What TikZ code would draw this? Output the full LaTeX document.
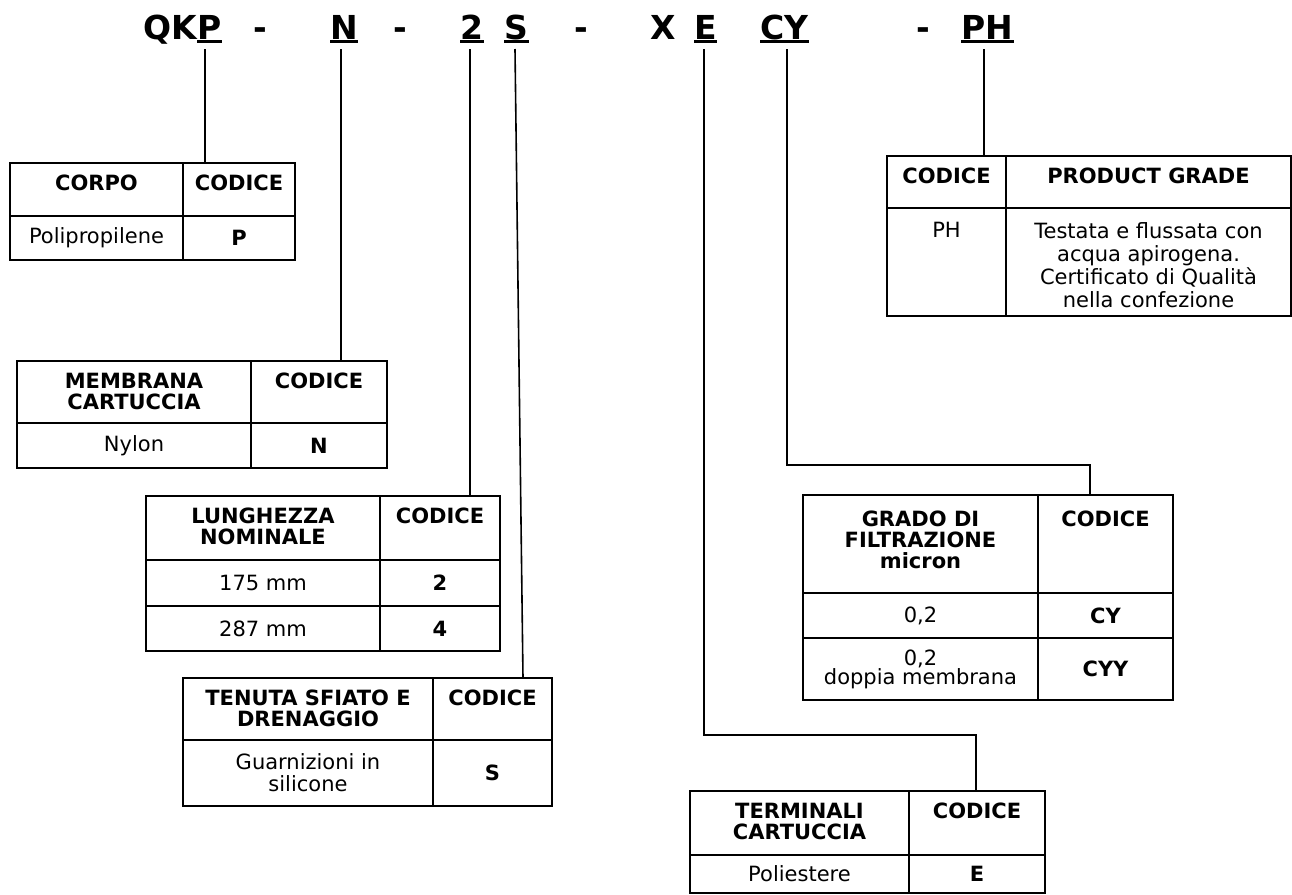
\documentclass[tikz,border=0pt]{standalone}
\usepackage{fontspec}
\setmainfont{DejaVu Sans}
\usetikzlibrary{calc}

\tikzset{
  griglia/.style={line width=1.35pt, line join=miter},
  link/.style={line width=0.8pt},
  sotto/.style={line width=1.75pt},
  sigla/.style={font=\fontsize{16.5}{18}\selectfont\bfseries, inner sep=0pt, anchor=base west},
  testa/.style={font=\fontsize{10.5}{10.4}\selectfont\bfseries, anchor=north, inner sep=0pt, align=center},
  voce/.style={font=\fontsize{10.5}{11}\selectfont, inner sep=0pt, align=center},
  codice/.style={font=\fontsize{10.5}{11}\selectfont\bfseries, inner sep=0pt},
}

\begin{document}
\begin{tikzpicture}[x=0.5pt, y=-0.5pt]
    \useasboundingbox (0,0) rectangle (1292,895);

    % ===== SIGLA =====
    \node[sigla] (tQK) at (143,39) {QK};
    \node[sigla] (tP) at (tQK.base east) {P};
    \node[sigla] (d1) at (253,39) {-};
    \node[sigla] (tN) at (330,39) {N};
    \node[sigla] (d2) at (393,39) {-};
    \node[sigla] (t2) at (460,39) {2};
    \node[sigla] (tS) at (504,39) {S};
    \node[sigla] (d3) at (574,39) {-};
    \node[sigla] (tX) at (650,39) {X};
    \node[sigla] (tE) at (694,39) {E};
    \node[sigla] (tCY) at (760,39) {CY};
    \node[sigla] (d4) at (916,39) {-};
    \node[sigla] (tPH) at (961,39) {PH};
    \foreach \n in {tP,tN,t2,tS,tE,tCY,tPH}
        \draw[sotto] ($(\n.base west)+(0,2.5)$) -- ($(\n.base east)+(0,2.5)$);

    \coordinate (cP) at (205,49);
    \coordinate (cN) at (341,49);
    \coordinate (c2) at (470,49);
    \coordinate (cS) at (515,49);
    \coordinate (cE) at (704,49);
    \coordinate (cCY) at (787,49);
    \coordinate (cPH) at (984,49);

    % ===== CORPO =====
    \draw[griglia] (10,163) rectangle (295,260);
    \draw[griglia] (10,216) -- (295,216) (183,163) -- (183,260);
    \node[testa] (corpoT) at (96.5,175) {CORPO};
    \node[testa] (corpoC) at (239,175) {CODICE};
    \node[voce] (corpoV) at (96.5,238) {Polipropilene};
    \node[codice] (corpoK) at (239,238) {P};
    \coordinate (corpoIn) at (205,163);

    % ===== MEMBRANA =====
    \draw[griglia] (17,361) rectangle (387,468);
    \draw[griglia] (17,423) -- (387,423) (251,361) -- (251,468);
    \node[testa] (membT) at (134,373) {MEMBRANA\\CARTUCCIA};
    \node[testa] (membC) at (319,373) {CODICE};
    \node[voce] (membV) at (134,445.5) {Nylon};
    \node[codice] (membK) at (319,445.5) {N};
    \coordinate (membIn) at (341,361);

    % ===== LUNGHEZZA =====
    \draw[griglia] (146,496) rectangle (500,651);
    \draw[griglia] (146,560) -- (500,560) (146,606) -- (500,606) (380,496) -- (380,651);
    \node[testa] (lungT) at (263,508) {LUNGHEZZA\\NOMINALE};
    \node[testa] (lungC) at (440,508) {CODICE};
    \node[voce] (lungA) at (263,583) {175 mm};
    \node[codice] (lungKA) at (440,583) {2};
    \node[voce] (lungB) at (263,628.5) {287 mm};
    \node[codice] (lungKB) at (440,628.5) {4};
    \coordinate (lungIn) at (470,496);

    % ===== TENUTA =====
    \draw[griglia] (183,678) rectangle (552,806);
    \draw[griglia] (183,740) -- (552,740) (433,678) -- (433,806);
    \node[testa] (tenT) at (308,690) {TENUTA SFIATO E\\DRENAGGIO};
    \node[testa] (tenC) at (492.5,690) {CODICE};
    \node[voce] (tenV) at (308,773) {Guarnizioni in\\silicone};
    \node[codice] (tenK) at (492.5,773) {S};
    \coordinate (tenIn) at (523,678);

    % ===== PRODUCT GRADE =====
    \draw[griglia] (887,156) rectangle (1291,316);
    \draw[griglia] (887,208) -- (1291,208) (1006,156) -- (1006,316);
    \node[testa] (phC) at (946.5,168) {CODICE};
    \node[testa] (phT) at (1148.5,168) {PRODUCT GRADE};
    \node[voce, anchor=north] (phK) at (946.5,222) {PH};
    \node[voce, anchor=north, font=\fontsize{10.5}{11.6}\selectfont] (phV) at (1148.5,222)
        {Testata e flussata con\\acqua apirogena.\\Certificato di Qualità\\nella confezione};
    \coordinate (phIn) at (984,156);

    % ===== GRADO DI FILTRAZIONE =====
    \draw[griglia] (803,495) rectangle (1173,700);
    \draw[griglia] (803,593) -- (1173,593) (803,638) -- (1173,638) (1038,495) -- (1038,700);
    \node[testa] (gradT) at (920.5,511) {GRADO DI\\FILTRAZIONE\\micron};
    \node[testa] (gradC) at (1105.5,511) {CODICE};
    \node[voce] (gradA) at (920.5,615.5) {0,2};
    \node[codice] (gradKA) at (1105.5,615.5) {CY};
    \node[voce, font=\fontsize{10.5}{9.6}\selectfont] (gradB) at (920.5,669) {0,2\\doppia membrana};
    \node[codice] (gradKB) at (1105.5,669) {CYY};
    \coordinate (gradK) at (1090,465);
    \coordinate (gradIn) at (1090,495);

    % ===== TERMINALI =====
    \draw[griglia] (690,791) rectangle (1045,893);
    \draw[griglia] (690,855) -- (1045,855) (909,791) -- (909,893);
    \node[testa] (termT) at (799.5,803) {TERMINALI\\CARTUCCIA};
    \node[testa] (termC) at (977,803) {CODICE};
    \node[voce] (termV) at (799.5,874) {Poliestere};
    \node[codice] (termK) at (977,874) {E};
    \coordinate (termG) at (976,735);
    \coordinate (termIn) at (976,791);

    % ===== COLLEGAMENTI =====
    \draw[link] (cP) -- (corpoIn);
    \draw[link] (cN) -- (membIn);
    \draw[link] (c2) -- (lungIn);
    \draw[link] (cS) -- (tenIn);
    \draw[link] (cE) |- (termG) -- (termIn);
    \draw[link] (cCY) |- (gradK) -- (gradIn);
    \draw[link] (cPH) -- (phIn);
\end{tikzpicture}
\end{document}
